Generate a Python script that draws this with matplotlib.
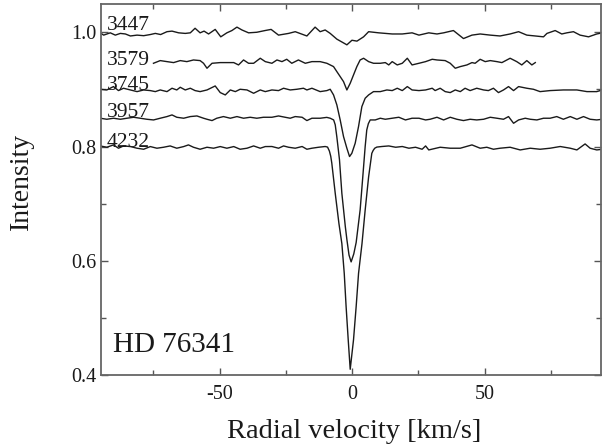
import matplotlib

matplotlib.use("Agg")
import matplotlib.pyplot as plt
from matplotlib.ticker import MultipleLocator

# order numbers of the spectra, top to bottom
orders = ["3447", "3579", "3745", "3957", "4232"]
label_levels = [1.004, 0.943, 0.899, 0.851, 0.799]

v_3447 = [-95.1, -93.8, -91.3, -89.4, -87.5, -85.6, -83.7, -81.2, -78.7, -76.2,
          -74.3, -72.3, -69.9, -68.0, -65.5, -63.0, -61.1, -59.3, -57.4, -55.9,
          -54.2, -51.7, -49.6, -47.3, -45.4, -43.5, -41.6, -39.1, -36.0, -32.9,
          -30.6, -27.8, -24.0, -21.5, -17.1, -14.0, -12.1, -10.2, -8.3, -5.8,
          -2.0, -0.1, 1.8, 4.3, 6.2, 10.0, 15.1, 18.9, 22.6, 25.2,
          28.9, 32.0, 34.5, 38.2, 42.0, 45.2, 48.3, 52.1, 55.8, 59.6,
          62.8, 65.9, 69.1, 72.2, 73.5, 76.6, 79.1, 81.0, 83.5, 86.0,
          89.2, 92.3, 94.4]
i_3447 = [0.999, 0.995, 0.999, 0.995, 0.998, 0.997, 0.9935, 0.995, 0.994, 0.996,
          0.998, 0.996, 1.001, 1.002, 0.999, 0.998, 0.999, 1.007, 0.999, 1.002,
          0.997, 1.005, 0.992, 0.999, 1.003, 1.009, 1.004, 0.999, 1.000, 1.003,
          1.005, 0.995, 0.998, 1.001, 0.9935, 1.009, 1.001, 1.004, 0.998, 0.988,
          0.978, 0.986, 0.9845, 0.992, 1.001, 0.999, 0.997, 0.997, 0.999, 0.995,
          0.999, 0.997, 0.999, 1.003, 0.989, 0.995, 0.997, 0.995, 0.9935, 0.997,
          1.001, 0.995, 0.9935, 0.992, 0.998, 1.003, 0.997, 0.999, 1.001, 0.995,
          0.992, 0.997, 0.999]

v_3579 = [-75.0, -72.45, -69.9, -67.4, -64.9, -62.4, -59.9, -57.4, -56.1, -54.8,
          -52.9, -49.8, -47.3, -44.7, -42.9, -41.0, -39.1, -37.2, -34.7, -32.8,
          -30.3, -28.4, -26.5, -24.7, -22.8, -20.3, -17.7, -15.2, -12.1, -9.56,
          -7.04, -5.79, -4.53, -3.27, -2.01, -0.75, 0.5, 1.76, 3.0, 4.3,
          6.2, 8.05, 10.6, 12.5, 13.8, 15.1, 17.0, 18.9, 20.8, 22.6,
          25.2, 27.7, 30.2, 32.0, 35.1, 37.0, 38.9, 40.8, 43.3, 45.2,
          46.4, 48.3, 50.2, 52.1, 54.6, 56.5, 59.6, 62.1, 64.0, 65.9,
          67.8, 69.1]
i_3579 = [0.9457, 0.9504, 0.9486, 0.9469, 0.9504, 0.9486, 0.9515, 0.9504, 0.9457, 0.937,
          0.9457, 0.9469, 0.9469, 0.9469, 0.9428, 0.9515, 0.9457, 0.9457, 0.9545, 0.9486,
          0.9457, 0.9515, 0.9486, 0.9527, 0.9457, 0.9515, 0.9457, 0.9486, 0.9486, 0.9457,
          0.9399, 0.9311, 0.9224, 0.9136, 0.899, 0.9107, 0.9253, 0.9399, 0.9515, 0.9545,
          0.9486, 0.9457, 0.9457, 0.9469, 0.9428, 0.9486, 0.9428, 0.9457, 0.9545, 0.9428,
          0.9457, 0.9486, 0.9527, 0.9515, 0.9504, 0.9457, 0.937, 0.9399, 0.9428, 0.9469,
          0.9457, 0.9527, 0.9486, 0.9504, 0.9486, 0.9469, 0.9545, 0.9486, 0.9428, 0.9504,
          0.9428, 0.9469]

v_3745 = [-95.1, -92.6, -90.1, -88.2, -86.3, -83.7, -81.2, -78.7, -76.2, -74.3,
          -72.45, -69.9, -68.0, -66.2, -64.9, -63.0, -61.1, -59.3, -57.4, -54.8,
          -51.7, -49.8, -47.9, -46.0, -44.1, -42.3, -39.7, -37.2, -34.7, -32.8,
          -30.3, -27.8, -25.9, -23.4, -20.9, -18.4, -17.1, -15.2, -12.1, -9.56,
          -8.3, -7.04, -5.79, -4.53, -3.27, -2.01, -1.0, -0.13, 1.13, 2.39,
          3.65, 4.9, 6.2, 8.05, 10.6, 13.1, 15.1, 17.0, 18.9, 20.8,
          22.6, 25.2, 27.7, 30.2, 31.3, 33.2, 35.1, 37.0, 38.9, 40.8,
          42.6, 44.5, 47.0, 49.6, 51.4, 53.3, 55.2, 57.1, 59.0, 60.9,
          62.8, 65.9, 68.4, 70.9, 74.7, 79.7, 84.8, 88.6, 92.3, 94.4]
i_3745 = [0.9002, 0.899, 0.9049, 0.8979, 0.902, 0.899, 0.8961, 0.899, 0.8979, 0.8961,
          0.899, 0.8961, 0.902, 0.899, 0.9037, 0.899, 0.902, 0.8979, 0.8961, 0.899,
          0.906, 0.8944, 0.8903, 0.899, 0.8961, 0.9002, 0.899, 0.8932, 0.899, 0.8961,
          0.899, 0.8979, 0.902, 0.899, 0.9002, 0.902, 0.899, 0.902, 0.8961, 0.8979,
          0.9002, 0.8903, 0.8728, 0.8465, 0.8174, 0.797, 0.7824, 0.7882, 0.8057, 0.8349,
          0.8699, 0.8845, 0.8903, 0.8961, 0.8961, 0.899, 0.8979, 0.902, 0.8979, 0.9049,
          0.899, 0.8979, 0.899, 0.902, 0.8979, 0.902, 0.8961, 0.8944, 0.899, 0.8961,
          0.902, 0.8979, 0.902, 0.899, 0.8979, 0.902, 0.8944, 0.899, 0.9049, 0.8979,
          0.9049, 0.902, 0.9002, 0.8961, 0.8979, 0.899, 0.899, 0.8961, 0.8961, 0.899]

v_3957 = [-95.1, -92.6, -90.1, -87.5, -85.0, -82.5, -80.0, -77.5, -74.97, -72.45,
          -69.9, -68.0, -66.2, -63.6, -61.1, -58.6, -56.1, -54.8, -52.9, -51.1,
          -48.6, -46.0, -43.5, -41.0, -38.5, -36.0, -33.5, -30.3, -27.8, -25.3,
          -23.4, -21.5, -18.9, -17.1, -15.2, -12.1, -9.6, -8.3, -7.0, -6.4, -5.8,
          -4.8, -3.9, -2.6, -2.0, -1.2, -0.4, 0.6, 1.5, 3.0, 4.0,
          4.9, 5.5, 6.1, 6.8, 8.7, 10.6, 12.5, 15.1, 17.6, 20.1, 22.6,
          25.2, 27.7, 29.4, 32.0, 34.5, 37.0, 39.5, 42.0, 44.5, 47.0,
          49.6, 52.1, 54.6, 57.1, 59.0, 60.9, 62.8, 65.3, 67.2, 69.7,
          72.2, 74.7, 77.2, 79.7, 82.3, 84.8, 87.3, 89.8, 92.3, 94.4]
i_3957 = [0.8495, 0.8477, 0.8495, 0.8477, 0.8495, 0.8512, 0.8495, 0.8477, 0.8465, 0.8495,
          0.8524, 0.8553, 0.8512, 0.8495, 0.8524, 0.8535, 0.8495, 0.8477, 0.8454, 0.8495,
          0.8524, 0.8495, 0.8524, 0.8495, 0.8512, 0.8495, 0.8512, 0.8512, 0.8535, 0.8512,
          0.8495, 0.8524, 0.8512, 0.8454, 0.8495, 0.8495, 0.851, 0.8495, 0.8465, 0.838, 0.817,
          0.777, 0.718, 0.66, 0.637, 0.61, 0.598, 0.612, 0.632, 0.689, 0.747,
          0.80, 0.829, 0.840, 0.8465, 0.8465, 0.8495, 0.8477, 0.8495, 0.8512, 0.8465, 0.8495,
          0.8495, 0.8465, 0.8477, 0.8512, 0.8465, 0.8512, 0.8477, 0.8454, 0.8477, 0.8465,
          0.8477, 0.8512, 0.8495, 0.8477, 0.8524, 0.8407, 0.8465, 0.8495, 0.8477, 0.8465,
          0.8495, 0.8495, 0.8524, 0.8477, 0.8524, 0.8477, 0.8524, 0.8477, 0.8465, 0.8477]

v_4232 = [-95.1, -92.6, -90.1, -88.2, -86.3, -83.7, -81.2, -78.7, -76.2, -73.7,
          -71.2, -68.7, -66.2, -63.6, -61.8, -59.9, -57.4, -54.8, -52.3, -49.8,
          -47.3, -44.7, -42.3, -39.7, -37.2, -34.7, -32.8, -30.3, -27.8, -25.9,
          -24.0, -21.5, -18.9, -17.1, -15.2, -12.7, -10.2, -9.3, -8.6, -8.1, -7.7, -6.4,
          -5.0, -3.9, -3.0, -2.3, -1.5, -0.75, 0.5, 1.5, 2.4, 3.7,
          4.9, 6.2, 7.4, 7.9, 8.5, 9.3, 11.2, 13.8, 16.4, 18.9, 21.4, 23.9,
          26.4, 27.7, 28.9, 33.2, 37.0, 40.8, 45.2, 48.3, 50.8, 53.3,
          55.8, 59.6, 63.4, 67.2, 70.9, 74.7, 78.5, 82.3, 84.8, 87.9,
          89.8, 92.3, 94.4]
i_4232 = [0.801, 0.7987, 0.8028, 0.797, 0.801, 0.7999, 0.797, 0.7952, 0.7999, 0.797,
          0.7987, 0.801, 0.797, 0.7999, 0.8028, 0.7987, 0.7952, 0.7987, 0.797, 0.7999,
          0.797, 0.7999, 0.7952, 0.797, 0.801, 0.797, 0.7999, 0.800, 0.797, 0.801,
          0.7987, 0.797, 0.800, 0.7952, 0.797, 0.7987, 0.800, 0.799, 0.792, 0.783, 0.771, 0.718,
          0.665, 0.63, 0.578, 0.52, 0.4616, 0.41, 0.4616, 0.52, 0.578, 0.63,
          0.689, 0.747, 0.788, 0.793, 0.797, 0.799, 0.800, 0.801, 0.7987, 0.800, 0.797, 0.7987,
          0.7952, 0.801, 0.794, 0.7987, 0.797, 0.797, 0.8028, 0.797, 0.7987, 0.7952,
          0.797, 0.7987, 0.794, 0.797, 0.7952, 0.797, 0.800, 0.797, 0.794, 0.8045,
          0.797, 0.794, 0.7952]

spectra = [(v_3447, i_3447), (v_3579, i_3579), (v_3745, i_3745),
           (v_3957, i_3957), (v_4232, i_4232)]

plt.rcParams["font.family"] = ["Liberation Serif", "DejaVu Serif"]
plt.rcParams["axes.unicode_minus"] = False

fig = plt.figure(figsize=(6.02, 4.48), dpi=100)
ax = fig.add_axes([101 / 602, 73 / 448, 500 / 602, 371.3 / 448])

for v, inten in spectra:
    ax.plot(v, inten, color="#1a1a1a", lw=1.0, solid_joinstyle="round")

for name, level in zip(orders, label_levels):
    ax.text(-92.6, level, name, fontsize=15.5, ha="left", va="baseline", color="#1a1a1a")

ax.text(-90.2, 0.441, "HD 76341", fontsize=21, ha="left", va="baseline", color="#1a1a1a")

ax.set_xlim(-94.8, 93.9)
ax.set_ylim(0.4, 1.05)
ax.xaxis.set_major_locator(MultipleLocator(50))
ax.xaxis.set_minor_locator(MultipleLocator(25))
ax.yaxis.set_major_locator(MultipleLocator(0.2))
ax.yaxis.set_minor_locator(MultipleLocator(0.1))
ax.yaxis.set_major_formatter(matplotlib.ticker.FormatStrFormatter("%.1f"))

ax.tick_params(which="both", direction="in", top=True, right=True, color="#555555",
               labelsize=14.5, labelcolor="#1a1a1a")
ax.tick_params(which="major", length=5, width=1.0)
ax.tick_params(which="minor", length=3.5, width=1.0)
ax.tick_params(axis="x", which="major", pad=7)
ax.tick_params(axis="y", which="major", pad=3)

for spine in ax.spines.values():
    spine.set_color("#666666")
    spine.set_linewidth(1.3)

ax.set_xlabel("Radial velocity [km/s]", fontsize=20.5, color="#1a1a1a")
ax.set_ylabel("Intensity", fontsize=20, color="#1a1a1a")
ax.xaxis.set_label_coords(0.506, -0.118)
ax.yaxis.set_label_coords(-0.135, 0.522)

fig.savefig("out.png", dpi=100)
